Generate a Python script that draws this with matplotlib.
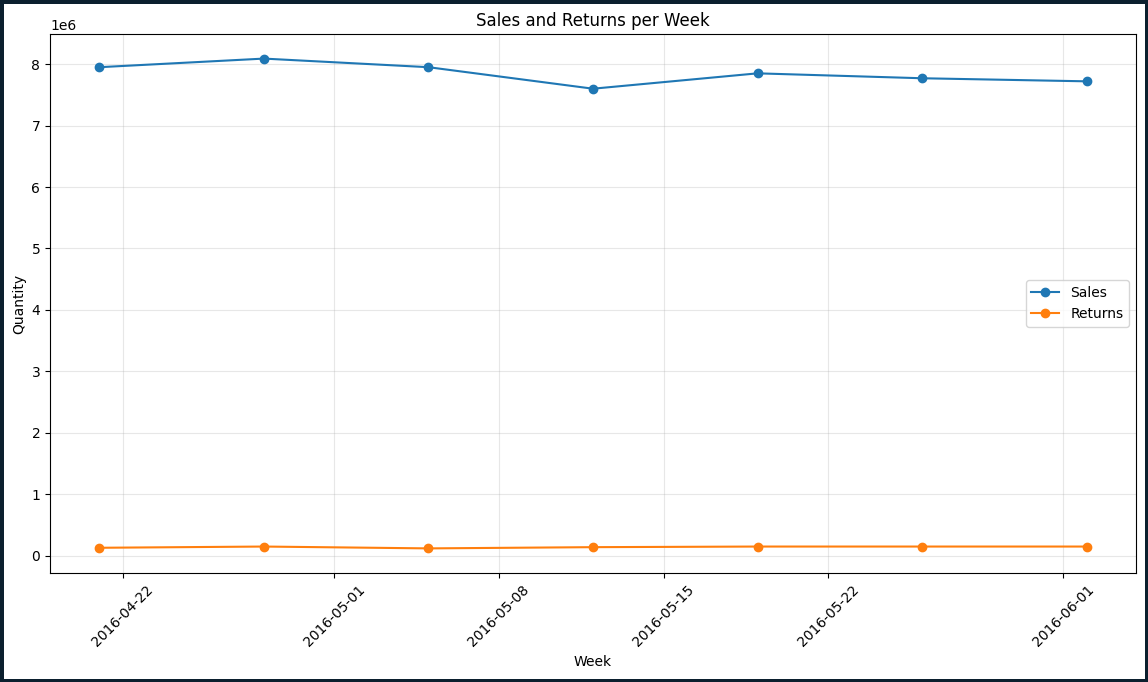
import matplotlib
matplotlib.use("Agg")
import matplotlib.pyplot as plt
import pandas as pd

weeks = ["2016-04-21", "2016-04-28", "2016-05-05", "2016-05-12",
         "2016-05-19", "2016-05-26", "2016-06-02"]
sales = [7.95e6, 8.09e6, 7.95e6, 7.60e6, 7.85e6, 7.77e6, 7.72e6]
returns = [0.13e6, 0.15e6, 0.12e6, 0.14e6, 0.15e6, 0.15e6, 0.15e6]

dates = pd.to_datetime(weeks)

fig, ax = plt.subplots(figsize=(11.48, 6.82), dpi=100)
fig.patch.set_edgecolor("#0b1f2e")
fig.patch.set_linewidth(5)

ax.plot(dates, sales, marker="o", label="Sales")
ax.plot(dates, returns, marker="o", label="Returns")
ax.set_title("Sales and Returns per Week")
ax.set_xlabel("Week")
ax.set_ylabel("Quantity")
ax.legend(loc="center right")
ax.grid(True, alpha=0.3)
plt.setp(ax.get_xticklabels(), rotation=45)

fig.subplots_adjust(left=0.0436, right=0.9895, top=0.950, bottom=0.160)
fig.savefig("out.png", dpi=100, edgecolor=fig.get_edgecolor())
